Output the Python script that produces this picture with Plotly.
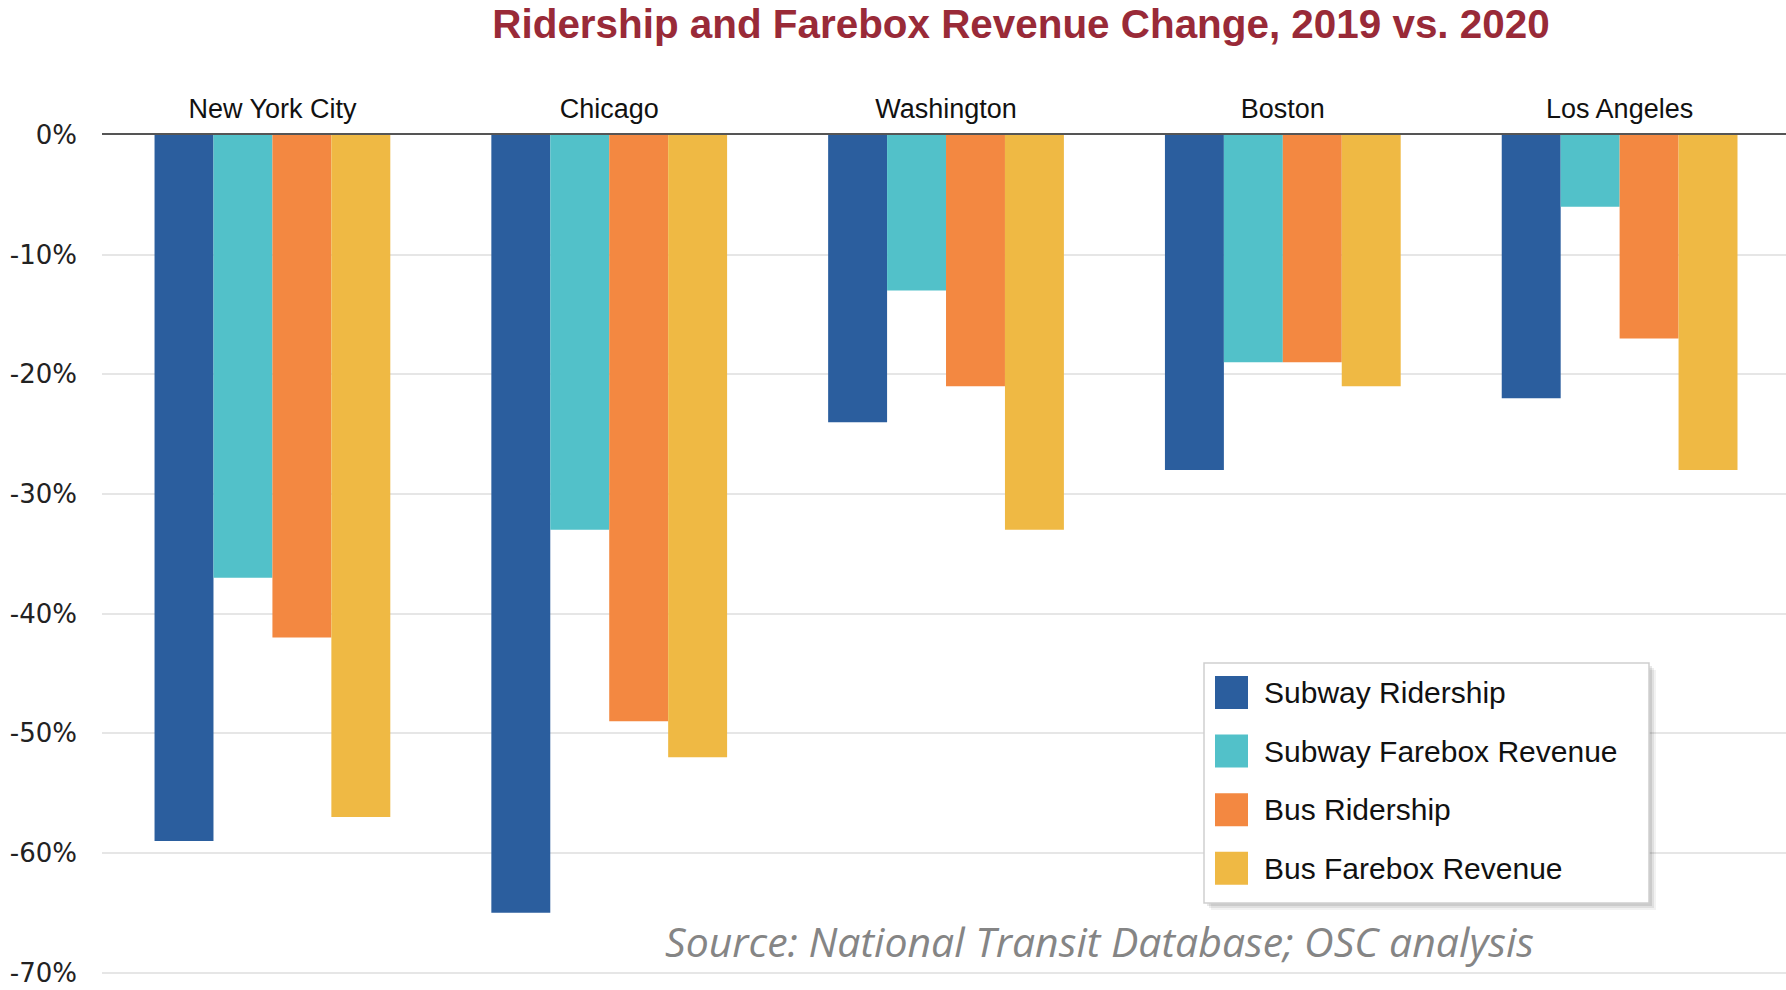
import plotly.graph_objects as go

# ---------------- data ----------------
cities = ["New York City", "Chicago", "Washington", "Boston", "Los Angeles"]
series_names = ["Subway Ridership", "Subway Farebox Revenue", "Bus Ridership", "Bus Farebox Revenue"]
subway_ridership = [-59, -65, -24, -28, -22]
subway_farebox = [-37, -33, -13, -19, -6]
bus_ridership = [-42, -49, -21, -19, -17]
bus_farebox = [-57, -52, -33, -21, -28]
y_tick_values = [0, -10, -20, -30, -40, -50, -60, -70]
y_tick_labels = ["0%", "-10%", "-20%", "-30%", "-40%", "-50%", "-60%", "-70%"]
title_text = "Ridership and Farebox Revenue Change, 2019 vs. 2020"
source_text = "Source: National Transit Database; OSC analysis"

series_values = [subway_ridership, subway_farebox, bus_ridership, bus_farebox]
colors = ["#2B5E9E", "#52C1C9", "#F38841", "#EFB944"]

# ---------------- layout constants ----------------
W, H = 1786, 990
ML, MR, MT, MB = 102, 0, 135, 15
ARIAL = "Liberation Sans, Arial, sans-serif"

def px_x(x):  # page pixel -> paper fraction
    return (x - ML) / (W - ML - MR)

def px_y(y):
    return (H - MB - y) / (H - MT - MB)

fig = go.Figure()
for name, vals, col in zip(series_names, series_values, colors):
    fig.add_trace(go.Bar(
        name=name, x=cities, y=vals, marker=dict(color=col, line=dict(width=0)),
        showlegend=False,
        hovertemplate="%{x}<br>" + name + ": %{y}%<extra></extra>",
    ))

shapes = []
annotations = []

# legend (drawn manually for large swatches)
LX0, LX1, LY0, LY1 = 1204, 1649, 663, 903
for off, op in [(7, 0.05), (5, 0.07), (3, 0.09)]:
    shapes.append(dict(type="rect", xref="paper", yref="paper",
                       x0=px_x(LX0 + off), x1=px_x(LX1 + off),
                       y0=px_y(LY1 + off), y1=px_y(LY0 + off),
                       fillcolor=f"rgba(0,0,0,{op})", line=dict(width=0), layer="above"))
shapes.append(dict(type="rect", xref="paper", yref="paper",
                   x0=px_x(LX0), x1=px_x(LX1), y0=px_y(LY1), y1=px_y(LY0),
                   fillcolor="white", line=dict(color="#cfcfcf", width=1.5), layer="above"))
item_y0 = 692.5
item_dy = 58.6
sw = 33
for i, (name, col) in enumerate(zip(series_names, colors)):
    cy = item_y0 + i * item_dy
    shapes.append(dict(type="rect", xref="paper", yref="paper",
                       x0=px_x(1215), x1=px_x(1215 + sw),
                       y0=px_y(cy + sw / 2), y1=px_y(cy - sw / 2),
                       fillcolor=col, line=dict(width=0), layer="above"))
    annotations.append(dict(text=name, xref="paper", yref="paper",
                            x=px_x(1262), y=px_y(cy), xanchor="left", yanchor="middle",
                            showarrow=False, font=dict(family=ARIAL, size=30, color="#111111")))

annotations.append(dict(text="<i>" + source_text + "</i>", xref="paper", yref="paper",
                        x=px_x(1099), y=px_y(941), xanchor="center", yanchor="middle",
                        showarrow=False,
                        font=dict(family="Open Sans, Noto Sans, sans-serif", size=41, color="#858585")))

fig.update_layout(
    width=W, height=H,
    margin=dict(l=ML, r=MR, t=MT, b=MB, pad=0),
    paper_bgcolor="white", plot_bgcolor="white",
    barmode="group", bargap=0.30, bargroupgap=0,
    title=dict(text="<b>" + title_text + "</b>", x=1021 / W, xref="container", xanchor="center",
               y=1 - 24 / H, yref="container", yanchor="middle",
               font=dict(family=ARIAL, size=40.4, color="#992A38")),
    xaxis=dict(side="top", type="category", range=[-0.506, 4.494], showgrid=False,
               showline=True, linecolor="#555555", linewidth=2, ticks="", ticklabelstandoff=4,
               tickfont=dict(family=ARIAL, size=27, color="#111111"), fixedrange=True),
    yaxis=dict(range=[-70.2, 0], tickvals=y_tick_values, ticktext=y_tick_labels,
               showgrid=True, gridcolor="#e6e6e6", gridwidth=2, zeroline=False,
               showline=False, ticks="", ticklabelstandoff=24,
               tickfont=dict(family="DejaVu Sans, sans-serif", size=26, color="#222222"),
               fixedrange=True),
    shapes=shapes, annotations=annotations,
)

fig.write_html("out.html", config={"displayModeBar": False},
               post_script="document.body.style.margin='0px';")
